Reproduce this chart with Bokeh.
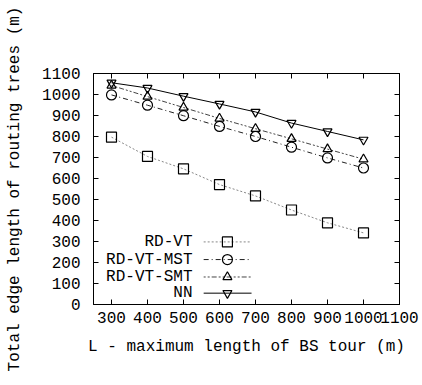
from bokeh.plotting import figure
from bokeh.models import Range1d, LinearAxis, FixedTicker, Label
from bokeh.embed import file_html
from bokeh.resources import INLINE

# ---- data ----
L_values = [300, 400, 500, 600, 700, 800, 900, 1000]
rd_vt = [797, 705, 646, 571, 517, 450, 389, 341]
rd_vt_mst = [998, 949, 899, 848, 800, 749, 698, 650]
rd_vt_smt = [1043, 990, 938, 886, 837, 789, 740, 692]
nn = [1056, 1031, 992, 955, 917, 864, 824, 784]
x_ticks = [300, 400, 500, 600, 700, 800, 900, 1000, 1100]
y_ticks = [0, 100, 200, 300, 400, 500, 600, 700, 800, 900, 1000, 1100]
series_names = ["RD-VT", "RD-VT-MST", "RD-VT-SMT", "NN"]

FONT = "Liberation Mono"
FS = "16px"

p = figure(width=422, height=385, output_backend="svg", toolbar_location=None,
           x_range=Range1d(250, 1100), y_range=Range1d(0, 1100),
           min_border_left=93, min_border_right=23, min_border_top=73,
           min_border_bottom=81)
p.xgrid.visible = False
p.ygrid.visible = False
p.outline_line_color = "black"
p.outline_line_width = 1
p.background_fill_color = "white"
p.border_fill_color = "white"

def style_axis(ax, show_labels=True):
    ax.major_tick_in = 5
    ax.major_tick_out = 0
    ax.minor_tick_in = 0
    ax.minor_tick_out = 0
    ax.axis_line_color = "black"
    ax.major_tick_line_color = "black"
    ax.major_label_text_font = FONT
    ax.major_label_text_font_size = FS
    ax.major_label_text_color = "black" if show_labels else None
    ax.axis_label_text_font = FONT
    ax.axis_label_text_font_size = FS
    ax.axis_label_text_font_style = "normal"
    ax.axis_label_text_color = "black"

xa = p.xaxis[0]
xa.ticker = FixedTicker(ticks=x_ticks)
xa.axis_label = "L - maximum length of BS tour (m)"
style_axis(xa)
xa.major_label_standoff = 7
xa.axis_label_standoff = 12

ya = p.yaxis[0]
ya.ticker = FixedTicker(ticks=y_ticks)
ya.axis_label = "Total edge length of routing trees (m)"
style_axis(ya)
ya.major_label_standoff = 13
ya.axis_label_standoff = 15

top = LinearAxis(ticker=FixedTicker(ticks=x_ticks))
style_axis(top, False)
p.add_layout(top, "above")
right = LinearAxis(ticker=FixedTicker(ticks=y_ticks))
style_axis(right, False)
p.add_layout(right, "right")

styles = [
    dict(color="#888888", dash="2 2", marker="square", size=10),
    dict(color="#222222", dash="5 3 1 3", marker="circle", size=10),
    dict(color="#444444", dash="2 2 2 2 5 2", marker="triangle", size=9),
    dict(color="black", dash="solid", marker="inverted_triangle", size=9),
]
all_series = [rd_vt, rd_vt_mst, rd_vt_smt, nn]

# legend layout (data coords of the key area)
leg_x0, leg_x1, leg_xm, leg_text_x = 556, 689, 622, 525
leg_rows = [298, 214, 131, 54]

for vals, st, name, ry in zip(all_series, styles, series_names, leg_rows):
    p.line(L_values, vals, line_color=st["color"], line_dash=st["dash"], line_width=1)
    p.scatter(L_values, vals, marker=st["marker"], size=st["size"],
              line_color="black", fill_color=None, line_width=1.2)
    # key
    p.line([leg_x0, leg_x1], [ry, ry], line_color=st["color"], line_dash=st["dash"], line_width=1)
    p.scatter([leg_xm], [ry], marker=st["marker"], size=st["size"],
              line_color="black", fill_color=None, line_width=1.2)
    p.add_layout(Label(x=leg_text_x, y=ry, text=name, text_align="right",
                       text_baseline="middle", text_font=FONT, text_font_size=FS,
                       text_color="black"))

open("out.html", "w").write(file_html(p, INLINE))
